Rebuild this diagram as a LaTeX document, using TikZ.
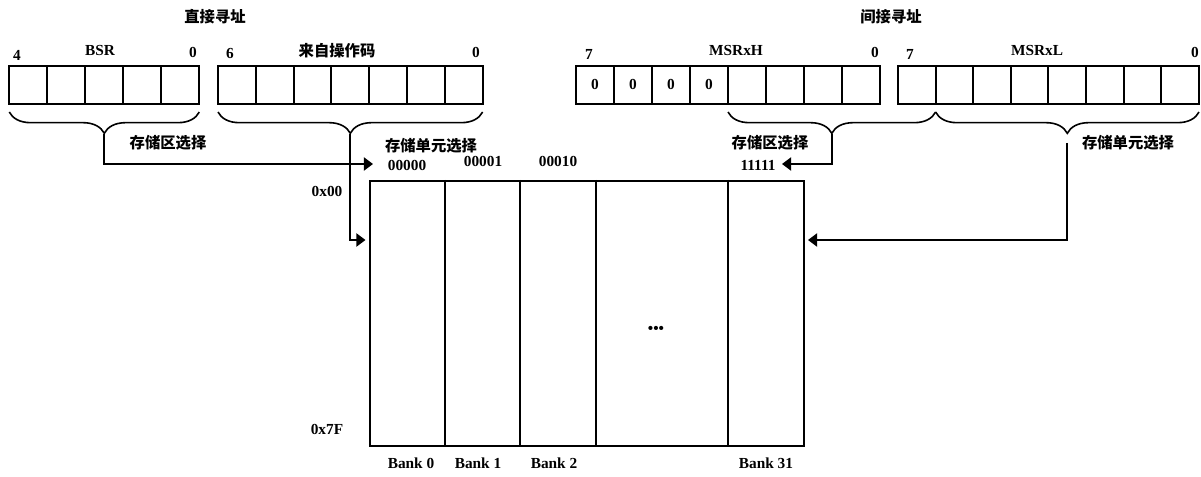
\documentclass[tikz,border=0pt]{standalone}
\usepackage{fontspec}
\setmainfont{Liberation Serif}
\newfontfamily\cjk{Noto Sans CJK SC}
\usetikzlibrary{arrows.meta,decorations.pathreplacing}
\begin{document}
\begin{tikzpicture}[x=0.75pt,y=-0.75pt,
  line width=1.4pt,
  lbl/.style={inner sep=0pt,font=\fontsize{11.5}{12}\selectfont\bfseries},
  zh/.style={inner sep=0pt,font=\fontsize{11.5}{12}\selectfont\cjk\bfseries},
  regbox/.style={draw,line width=1.5pt},
  brc/.style={decorate,decoration={brace,mirror,amplitude=16pt},line width=1.2pt},
  arr/.style={-{Triangle[length=6.8pt,width=9.8pt]},line width=1.4pt}]
\useasboundingbox (0,0) rectangle (1201,477);

% titles
\node[zh] (t1) at (215,17) {直接寻址};
\node[zh] (t2) at (891,17) {间接寻址};

% register bit labels
\node[lbl] (b4) at (17,55) {4};
\node[lbl] (bsrl) at (100,51) {BSR};
\node[lbl] (b0a) at (193,52) {0};
\node[lbl] (b6) at (230,54) {6};
\node[zh] (opl) at (337,51) {来自操作码};
\node[lbl] (b0b) at (476,52) {0};
\node[lbl] (b7a) at (589,54) {7};
\node[lbl] (msrhl) at (736,51) {MSRxH};
\node[lbl] (b0c) at (875,52) {0};
\node[lbl] (b7b) at (910,54) {7};
\node[lbl] (msrll) at (1037,51) {MSRxL};
\node[lbl] (b0d) at (1195,52) {0};

% registers
\foreach \i in {0,...,4} \draw[regbox] ({9.3+38*\i},66) rectangle ({9.3+38*(\i+1)},104);
\foreach \i in {0,...,6} \draw[regbox] ({218+37.8*\i},66) rectangle ({218+37.8*(\i+1)},104);
\foreach \i in {0,...,7} \draw[regbox] ({576+38*\i},66) rectangle ({576+38*(\i+1)},104);
\foreach \i in {0,...,7} \draw[regbox] ({898+37.6*\i},66) rectangle ({898+37.6*(\i+1)},104);
\foreach \i/\n in {0/z1,1/z2,2/z3,3/z4} \node[lbl] (\n) at ({595+38*\i},84) {0};

% braces
\coordinate (bA1) at (9.3,112);  \coordinate (bA2) at (199.3,112);
\coordinate (bB1) at (218,112);  \coordinate (bB2) at (482.6,112);
\coordinate (bC1) at (728,112);  \coordinate (bC2) at (935.6,112);
\coordinate (bD1) at (935.6,112); \coordinate (bD2) at (1199,112);
\draw[brc] (bA1) -- (bA2);
\draw[brc] (bB1) -- (bB2);
\draw[brc] (bC1) -- (bC2);
\draw[brc] (bD1) -- (bD2);
\coordinate (tipA) at (104.3,134);
\coordinate (tipB) at (350.3,134);
\coordinate (tipC) at (831.8,134);
\coordinate (tipD) at (1067.3,143);

% selection labels
\node[zh] (s1) at (168,143) {存储区选择};
\node[zh] (s2) at (431,146) {存储单元选择};
\node[zh] (s3) at (770,143) {存储区选择};
\node[zh] (s4) at (1128,143) {存储单元选择};

% memory
\node[draw,line width=1.5pt,minimum width=434*0.75pt,minimum height=265*0.75pt,inner sep=0pt,anchor=north west] (mem) at (369,180) {};
\foreach \x in {445,520,596,728} \draw[line width=1.5pt] (\x,180) -- (\x,445);
\node[lbl] (dots) at (656,330) {•••};

\node[lbl] (a0) at (407,165) {00000};
\node[lbl] (a1) at (483,161) {00001};
\node[lbl] (a2) at (558,161) {00010};
\node[lbl] (a31) at (758,165) {11111};
\node[lbl] (r0) at (327,191) {0x00};
\node[lbl] (r7) at (327,429) {0x7F};
\node[lbl] (k0) at (411,463) {Bank 0};
\node[lbl] (k1) at (478,463) {Bank 1};
\node[lbl] (k2) at (554,463) {Bank 2};
\node[lbl] (k31) at (766,463) {Bank 31};

% connectors
\coordinate (eA) at (373,164);
\coordinate (eB) at (365.5,240);
\coordinate (eC) at (782,164);
\coordinate (eD) at (808,240);
\draw[arr] (tipA) |- (eA);
\draw[arr] (tipB) |- (eB);
\draw[arr] (tipC) |- (eC);
\draw[arr] (tipD) |- (eD);
\end{tikzpicture}
\end{document}
